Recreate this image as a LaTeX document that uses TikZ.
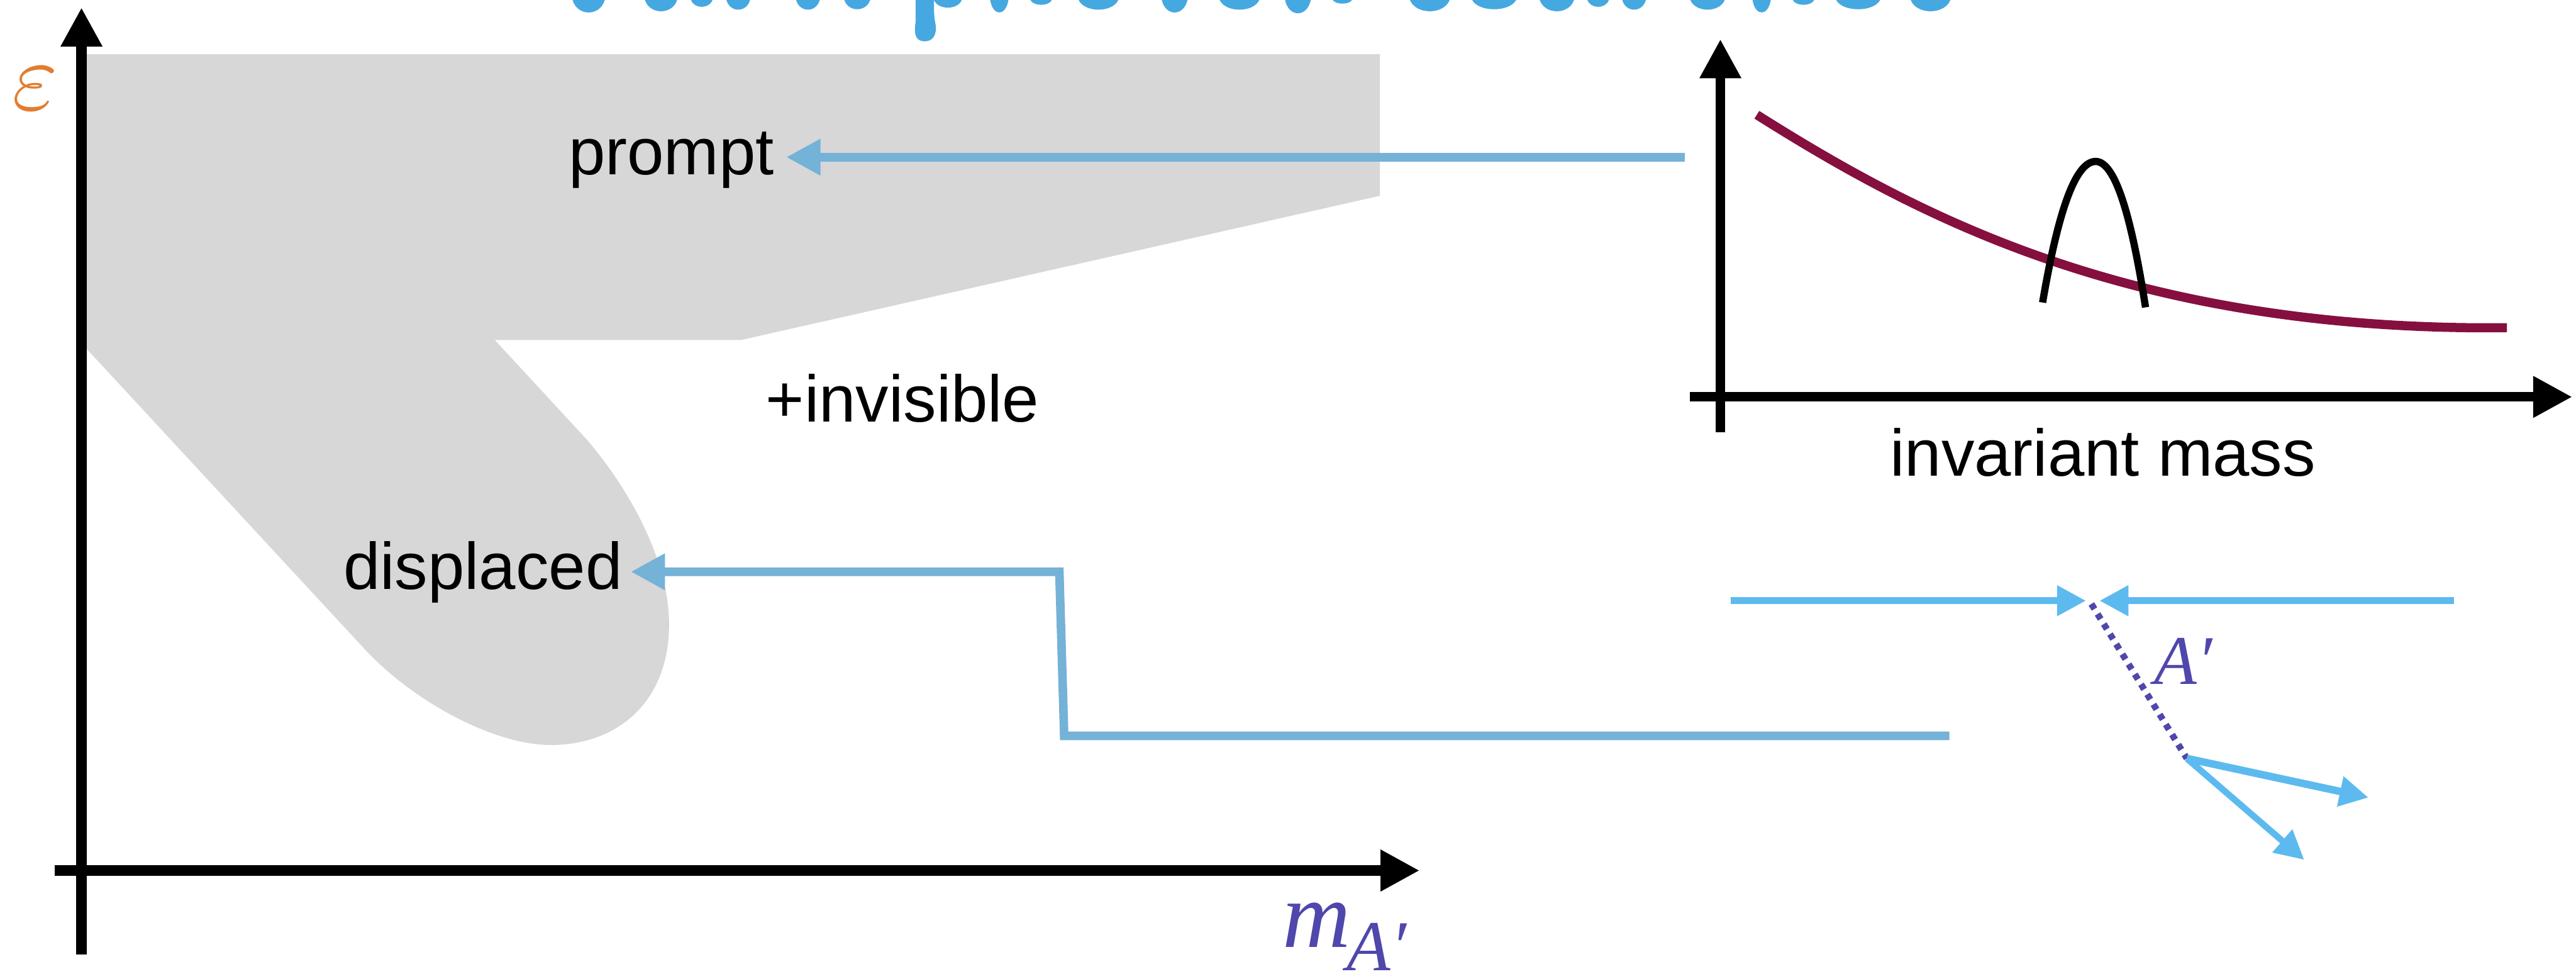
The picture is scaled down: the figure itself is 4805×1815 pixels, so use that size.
\documentclass[tikz,border=0pt]{standalone}
\usepackage{amsmath,amssymb}
\usepackage{fontspec}
\setmainfont{Liberation Sans}
\newfontfamily\timesfont{Liberation Serif}
\usetikzlibrary{arrows.meta}
\definecolor{regiongray}{HTML}{D7D7D7}
\definecolor{linkblue}{HTML}{74B2D8}
\definecolor{beamblue}{HTML}{5DBAEF}
\definecolor{titleblue}{HTML}{46A8E0}
\definecolor{darkviolet}{HTML}{4F47AB}
\definecolor{curvewine}{HTML}{85103F}
\definecolor{epsorange}{HTML}{E27D30}
\tikzset{
    axis/.style={line width=0.19cm, -{Triangle[length=0.73cm, width=0.73cm]}},
    link/.style={linkblue, line width=0.16cm, miter limit=10, -{Triangle[length=0.64cm, width=0.64cm]}},
    beam/.style={beamblue, line width=0.13cm, -{Triangle[length=0.54cm, width=0.54cm]}},
    word/.style={inner sep=0pt, anchor=base west, font=\fontsize{35}{40}\selectfont},
}

\begin{document}
\begin{tikzpicture}[x=0.01cm, y=-0.01cm]
    \useasboundingbox (0,0) rectangle (4805,1815);
    % title cut off by the top edge
    \foreach \bx/\bw/\bd in {1098/30/31, 1233/30/28, 1309/20/17, 1377/22/24, 1507/22/24, 1599/24/23,
        1768/26/19, 1864/17/31, 1942/20/12, 2049/37/24, 2191/24/31, 2312/37/24, 2421/24/33, 2504/18/9,
        2667/37/28, 2787/41/23, 2904/32/28, 2981/20/17, 3048/22/24, 3185/32/24, 3286/17/31, 3364/20/12,
        3466/41/23, 3601/37/28}
        \fill[titleblue] ({\bx-\bw},0) .. controls ({\bx-0.7*\bw},\bd) and ({\bx+0.7*\bw},\bd) .. ({\bx+\bw},0) -- cycle;
    \fill[titleblue] (1708,0) -- (1708,40) .. controls (1703,70) and (1712,77) .. (1725,77)
        .. controls (1740,77) and (1748,65) .. (1745,45) .. controls (1743,35) and (1742,30) .. (1742,0) -- cycle;

    \fill[regiongray] (152,101) -- (2574,101) -- (2574,365) -- (1382,634) -- (923,634) -- (1095,820)
        .. controls (1180,920) and (1248,1050) .. (1248,1164)
        .. controls (1248,1310) and (1150,1389) .. (1028,1389)
        .. controls (920,1389) and (770,1307) .. (680,1210) -- (152,640) -- cycle;

    \coordinate (yfoot) at (152,1780);
    \coordinate (ytip) at (152,14);
    \coordinate (xfoot) at (102,1623);
    \coordinate (xtip) at (2648,1623);
    \draw[axis] (yfoot) -- (ytip);
    \draw[axis] (xfoot) -- (xtip);
    \node[epsorange, inner sep=0pt, scale=5.2] (epsilon) at (66,165) {$\varepsilon$};
    \node[darkviolet, inner sep=0pt, anchor=base west, font=\timesfont\itshape] (mass) at (2392,1766)
        {\fontsize{50}{50}\selectfont m\raisebox{-0.43cm}{\fontsize{38}{40}\selectfont\hspace{-0.07cm}A′}};

    \node[word] (prompt) at (1060,326) {prompt};
    \node[word] (invisible) at (1428,787) {+invisible};
    \node[word] (displaced) at (640,1099) {displaced};
    \node[word] (invmass) at (3525,888) {invariant mass};

    \coordinate (promptfrom) at (3143,293);
    \coordinate (displacedfrom) at (3636,1372);
    \coordinate (elbowlow) at (1985,1372);
    \coordinate (elbowhigh) at (1976,1066);
    \draw[link, shorten >=0.22cm] (promptfrom) -- (promptfrom -| prompt.east);
    \draw[link, shorten >=0.15cm] (displacedfrom) -- (elbowlow) -- (elbowhigh) -- (elbowhigh -| displaced.east);

    \coordinate (inyfoot) at (3209,806);
    \coordinate (inytip) at (3209,73);
    \coordinate (inxfoot) at (3152,740);
    \coordinate (inxtip) at (4798,740);
    \draw[curvewine, line width=0.17cm] (3277,214) .. controls (3580,405) and (3980,618) .. (4676,611);
    \draw[axis, line width=0.18cm] (inyfoot) -- (inytip);
    \draw[axis, line width=0.18cm] (inxfoot) -- (inxtip);
    \draw[black, line width=0.135cm] (3810,564) .. controls (3838,400) and (3870,301) .. (3909,301)
        .. controls (3945,301) and (3975,400) .. (4002,573);

    \coordinate (beamleft) at (3228,1120);
    \coordinate (beamright) at (4577,1120);
    \coordinate (hitleft) at (3891,1120);
    \coordinate (hitright) at (3916,1120);
    \coordinate (hit) at (3901,1126);
    \coordinate (vertex) at (4079,1414);
    \coordinate (upperend) at (4418,1487);
    \coordinate (lowerend) at (4298,1603);
    \draw[beam] (beamleft) -- (hitleft);
    \draw[beam] (beamright) -- (hitright);
    \draw[darkviolet, line width=0.12cm, dash pattern=on 0.11cm off 0.11cm] (hit) -- (vertex);
    \draw[beam, line width=0.14cm] (vertex) -- (upperend);
    \draw[beam, line width=0.12cm] (vertex) -- (lowerend);
    \node[darkviolet, inner sep=0pt, anchor=base west, font=\timesfont\itshape\fontsize{37}{40}\selectfont] (aprime) at (4018,1276) {A′};
\end{tikzpicture}
\end{document}
